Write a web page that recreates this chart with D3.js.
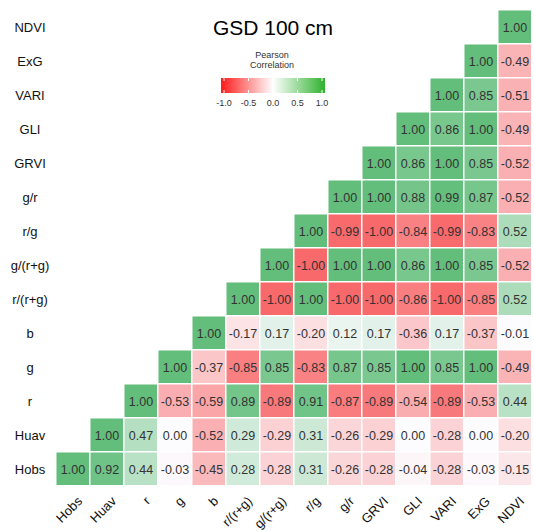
<!DOCTYPE html>
<html>
<head>
<meta charset="utf-8">
<script src="https://cdn.jsdelivr.net/npm/d3@7"></script>
<style>
  body { margin: 0; background: #fff; }
  text { font-family: "Liberation Sans", Arial, sans-serif; }
</style>
</head>
<body>
<div id="chart"></div>
<script>
"use strict";

// variables, in column order (left to right) / row order (bottom to top)
const vars = ["Hobs", "Huav", "r", "g", "b", "r/(r+g)", "g/(r+g)", "r/g", "g/r", "GRVI", "GLI", "VARI", "ExG", "NDVI"];

// each row: correlation of that variable with itself and every later variable
const rowHobs = [1.00, 0.92, 0.44, -0.03, -0.45, 0.28, -0.28, 0.31, -0.26, -0.28, -0.04, -0.28, -0.03, -0.15];
const rowHuav = [1.00, 0.47, 0.00, -0.52, 0.29, -0.29, 0.31, -0.26, -0.29, 0.00, -0.28, 0.00, -0.20];
const rowR = [1.00, -0.53, -0.59, 0.89, -0.89, 0.91, -0.87, -0.89, -0.54, -0.89, -0.53, 0.44];
const rowG = [1.00, -0.37, -0.85, 0.85, -0.83, 0.87, 0.85, 1.00, 0.85, 1.00, -0.49];
const rowB = [1.00, -0.17, 0.17, -0.20, 0.12, 0.17, -0.36, 0.17, -0.37, -0.01];
const rowRrg = [1.00, -1.00, 1.00, -1.00, -1.00, -0.86, -1.00, -0.85, 0.52];
const rowGrg = [1.00, -1.00, 1.00, 1.00, 0.86, 1.00, 0.85, -0.52];
const rowRg = [1.00, -0.99, -1.00, -0.84, -0.99, -0.83, 0.52];
const rowGr = [1.00, 1.00, 0.88, 0.99, 0.87, -0.52];
const rowGRVI = [1.00, 0.86, 1.00, 0.85, -0.52];
const rowGLI = [1.00, 0.86, 1.00, -0.49];
const rowVARI = [1.00, 0.85, -0.51];
const rowExG = [1.00, -0.49];
const rowNDVI = [1.00];

const rows = [rowHobs, rowHuav, rowR, rowG, rowB, rowRrg, rowGrg, rowRg, rowGr, rowGRVI, rowGLI, rowVARI, rowExG, rowNDVI];

const legendTicks = [-1.0, -0.5, 0.0, 0.5, 1.0];
const title = "GSD 100 cm";

const msm = {
    width: 534,
    height: 531,
    left: 56,
    top: 10,
    cell: 34
}

// flatten into cells
let cells = [];
rows.forEach((vals, i) => {
    vals.forEach((v, k) => {
        cells.push({ row: vars[i], col: vars[i + k], value: v });
    });
});

const svg = d3.select("#chart")
    .append("svg")
    .attr("width", msm.width)
    .attr("height", msm.height);

const n = vars.length;
const xScale = d3.scaleBand()
    .domain(vars)
    .range([msm.left, msm.left + n * msm.cell]);
const yScale = d3.scaleBand()
    .domain(vars.slice().reverse())
    .range([msm.top, msm.top + n * msm.cell]);

// Excel style 3 colour scale
const color = d3.scaleLinear()
    .domain([-1, 0, 1])
    .range(["#F8696B", "#FCFCFF", "#63BE7B"]);

// cells
svg.selectAll(".cell")
    .data(cells)
    .enter()
    .append("rect")
    .attr("class", "cell")
    .attr("x", d => xScale(d.col) + 0.5)
    .attr("y", d => yScale(d.row) + 0.5)
    .attr("width", xScale.bandwidth() - 1.5)
    .attr("height", yScale.bandwidth() - 1.5)
    .attr("fill", d => color(d.value));

svg.selectAll(".val")
    .data(cells)
    .enter()
    .append("text")
    .attr("class", "val")
    .attr("x", d => xScale(d.col) + xScale.bandwidth() / 2)
    .attr("y", d => yScale(d.row) + yScale.bandwidth() / 2 + 4.5)
    .attr("text-anchor", "middle")
    .style("font-size", "12.5px")
    .style("fill", "#333")
    .text(d => d.value.toFixed(2));

// row labels
svg.selectAll(".rowLabel")
    .data(vars)
    .enter()
    .append("text")
    .attr("class", "rowLabel")
    .attr("x", 30)
    .attr("y", d => yScale(d) + yScale.bandwidth() / 2 + 5)
    .attr("text-anchor", "middle")
    .style("font-size", "13px")
    .style("fill", "#111")
    .text(d => d);

// column labels, rotated
svg.selectAll(".colLabel")
    .data(vars)
    .enter()
    .append("text")
    .attr("class", "colLabel")
    .attr("transform", d => "translate(" + (xScale(d) + xScale.bandwidth() / 2 + 10) + "," + (msm.top + n * msm.cell + 16) + ") rotate(-45)")
    .attr("text-anchor", "end")
    .style("font-size", "13px")
    .style("fill", "#111")
    .text(d => d);

// title
svg.append("text")
    .attr("x", 273)
    .attr("y", 35)
    .attr("text-anchor", "middle")
    .style("font-size", "21px")
    .style("fill", "#000")
    .text(title);

// legend
const lg = { x: 221, y: 78, w: 104, h: 15 };
const defs = svg.append("defs");
const grad = defs.append("linearGradient").attr("id", "legGrad");
grad.selectAll("stop")
    .data([[0, "#ff1a1a"], [0.5, "#ffffff"], [1, "#2eb22e"]])
    .enter()
    .append("stop")
    .attr("offset", d => d[0])
    .attr("stop-color", d => d[1]);

svg.append("text")
    .attr("x", 272).attr("y", 58)
    .attr("text-anchor", "middle")
    .style("font-size", "9px").style("fill", "#333")
    .text("Pearson");
svg.append("text")
    .attr("x", 272).attr("y", 68)
    .attr("text-anchor", "middle")
    .style("font-size", "9px").style("fill", "#333")
    .text("Correlation");

svg.append("rect")
    .attr("x", lg.x).attr("y", lg.y)
    .attr("width", lg.w).attr("height", lg.h)
    .attr("fill", "url(#legGrad)");

const legScale = d3.scaleLinear()
    .domain([-1, 1])
    .range([lg.x + 3, lg.x + lg.w - 3]);

// small white tick marks inside the colour bar
legendTicks.forEach(t => {
    [lg.y, lg.y + lg.h - 3].forEach(yy => {
        svg.append("line")
            .attr("x1", legScale(t)).attr("x2", legScale(t))
            .attr("y1", yy).attr("y2", yy + 3)
            .attr("stroke", "#fff").attr("stroke-width", 1);
    });
});

svg.selectAll(".legTick")
    .data(legendTicks)
    .enter()
    .append("text")
    .attr("class", "legTick")
    .attr("x", d => legScale(d))
    .attr("y", 106)
    .attr("text-anchor", "middle")
    .style("font-size", "9px")
    .style("fill", "#333")
    .text(d => d.toFixed(1));
</script>
</body>
</html>
